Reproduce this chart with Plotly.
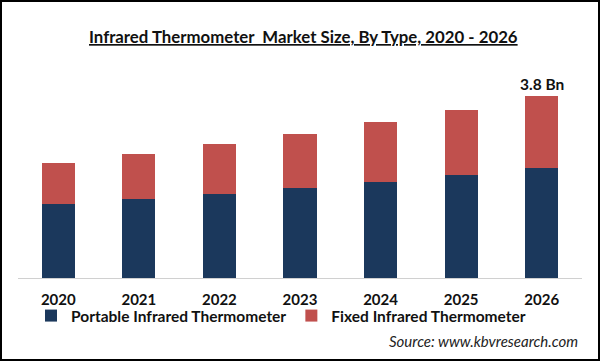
import plotly.graph_objects as go

years = ["2020", "2021", "2022", "2023", "2024", "2025", "2026"]
portable = [1.55, 1.65, 1.76, 1.88, 2.00, 2.15, 2.30]
fixed = [0.85, 0.94, 1.04, 1.13, 1.26, 1.36, 1.50]
label_text = "3.8 Bn"

W, H = 600, 361
L, R, T, B = 18, 18, 70, 83
pw, ph = W - L - R, H - T - B

def px_x(p):
    return (p - L) / pw

def px_y(p):
    return (H - B - p) / ph

FONT = "Lato"
navy = "#1B385C"
red = "#C0504D"

fig = go.Figure()
fig.add_trace(go.Bar(x=years, y=portable, name="Portable Infrared Thermometer",
                     marker=dict(color=navy, line=dict(width=0))))
fig.add_trace(go.Bar(x=years, y=fixed, name="Fixed Infrared Thermometer",
                     marker=dict(color=red, line=dict(width=0))))

total_last = portable[-1] + fixed[-1]
fig.add_annotation(x=len(years) - 1, y=total_last, text="<b>" + label_text + "</b>",
                   showarrow=False, yanchor="bottom", yshift=1,
                   font=dict(family=FONT, size=15.5, color="#111"))

fig.add_annotation(xref="paper", yref="paper", x=px_x(303), y=px_y(37),
                   text="<b><u>Infrared Thermometer  Market Size, By Type, 2020 - 2026</u></b>",
                   showarrow=False, xanchor="center", yanchor="middle",
                   font=dict(family=FONT, size=16.8, color="#111"))

fig.add_annotation(xref="paper", yref="paper", x=px_x(580), y=px_y(341),
                   text="<i>Source: www.kbvresearch.com</i>",
                   showarrow=False, xanchor="right", yanchor="middle",
                   font=dict(family=FONT, size=15, color="#222"))

fig.add_shape(type="rect", xref="paper", yref="paper",
              x0=px_x(1), x1=px_x(599), y0=px_y(1), y1=px_y(360),
              line=dict(color="#000", width=2), fillcolor="rgba(0,0,0,0)")

fig.update_layout(
    width=W, height=H,
    margin=dict(l=L, r=R, t=T, b=B, autoexpand=False),
    barmode="stack", bargap=0.59,
    plot_bgcolor="white", paper_bgcolor="white",
    font=dict(family=FONT, color="#111"),
    showlegend=True,
    legend=dict(orientation="h", x=px_x(31), y=px_y(299), xanchor="left", yanchor="top",
                font=dict(family=FONT, size=15.5, color="#111", weight="bold"),
                itemwidth=30, traceorder="normal", bgcolor="rgba(0,0,0,0)"),
    xaxis=dict(type="category", categoryorder="array", categoryarray=years,
               range=[-0.5, len(years) - 0.5], autorange=False,
               showline=True, linecolor="#d0d0d0", linewidth=1, ticks="",
               ticklabelstandoff=8,
               tickfont=dict(family=FONT, size=15, color="#111", weight="bold"),
               showgrid=False),
    yaxis=dict(range=[0, 4.34], visible=False, showgrid=False),
)

fig.write_html("out.html", config={"displayModeBar": False},
               post_script="document.body.style.margin='0';")
